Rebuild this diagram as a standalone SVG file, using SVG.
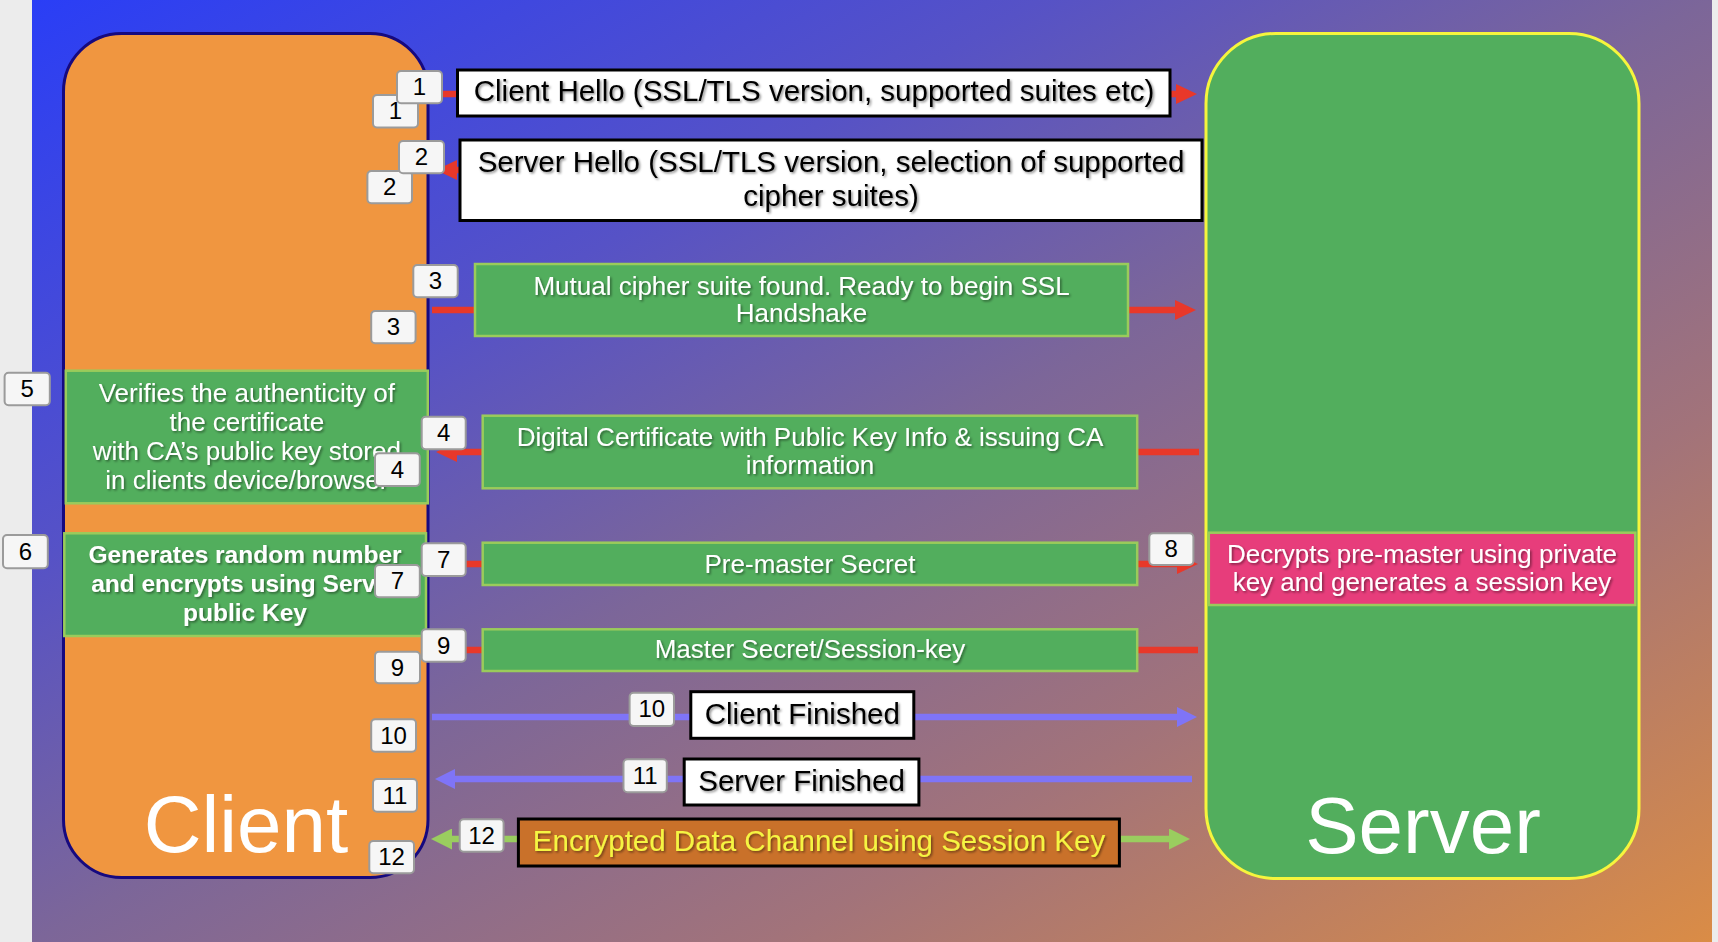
<svg xmlns="http://www.w3.org/2000/svg" width="1718" height="942" viewBox="0 0 1718 942">
  <defs>
    <linearGradient id="bg" x1="0" y1="0" x2="1" y2="1">
      <stop offset="0" stop-color="#2a3ef6"/>
      <stop offset="0.3" stop-color="#5652c6"/>
      <stop offset="0.5" stop-color="#7c6699"/>
      <stop offset="0.72" stop-color="#a2737a"/>
      <stop offset="1" stop-color="#da8c46"/>
    </linearGradient>
    <filter id="sh" x="-5%" y="-30%" width="110%" height="160%">
      <feDropShadow dx="1.5" dy="1.5" stdDeviation="0.9" flood-color="#000" flood-opacity="0.45"/>
    </filter>
    <marker id="hRed" viewBox="0 -10 21 20" refX="0" refY="0" markerWidth="21" markerHeight="20" markerUnits="userSpaceOnUse" orient="auto">
      <path d="M0,-10 L21,0 L0,10 Z" fill="#e8382a"/>
    </marker>
    <marker id="hBlue" viewBox="0 -10 20 20" refX="0" refY="0" markerWidth="20" markerHeight="20" markerUnits="userSpaceOnUse" orient="auto">
      <path d="M0,-10 L20,0 L0,10 Z" fill="#7f74f7"/>
    </marker>
    <marker id="hGreen" viewBox="0 -10.5 21 21" refX="0" refY="0" markerWidth="21" markerHeight="21" markerUnits="userSpaceOnUse" orient="auto-start-reverse">
      <path d="M0,-10.5 L21,0 L0,10.5 Z" fill="#9acd5f"/>
    </marker>
    <style>
      .t { font-family: "Liberation Sans", Arial, sans-serif; text-anchor: middle; }
      .blk { fill: #000; font-size: 29.5px; }
      .wht { fill: #fff; font-size: 26px; }
      .bold { font-weight: bold; font-size: 24.5px; }
      .big { fill: #fff; font-size: 80px; }
      .wbox { fill: #fff; stroke: #000; stroke-width: 3; }
      .gbox { fill: #52ae5d; stroke: #9acb5b; stroke-width: 2.5; }
      .lbl rect { fill: #f6f6f6; stroke: #9b9b9b; stroke-width: 2; }
      .lbl text { font-family: "Liberation Sans", Arial, sans-serif; font-size: 24px; fill: #000; text-anchor: middle; }
      .red { stroke: #e8382a; stroke-width: 6.5; fill: none; }
      .blue { stroke: #7f74f7; stroke-width: 6.5; fill: none; }
      .grn { stroke: #9acd5f; stroke-width: 6.5; fill: none; }
    </style>
  </defs>

  <rect x="0" y="0" width="1718" height="942" fill="#ececec"/>
  <rect x="32" y="0" width="1680" height="942" fill="url(#bg)"/>

  <g id="client">
    <rect x="63.5" y="33.5" width="364.5" height="844" rx="58" fill="#f09640" stroke="#16097f" stroke-width="3"/>
    <text class="t big" x="246" y="852">Client</text>
  </g>
  <g id="server">
    <rect x="1206" y="33.5" width="433" height="845" rx="70" fill="#52ae5d" stroke="#f6f53d" stroke-width="3"/>
    <text class="t big" x="1423" y="853">Server</text>
  </g>

  <g id="connectors">
    <path class="red" d="M432,94 H1176" marker-end="url(#hRed)"/>
    <path class="red" d="M460,170 H457" marker-end="url(#hRed)"/>
    <path class="red" d="M432,310 H1175" marker-end="url(#hRed)"/>
    <path class="red" d="M1199,452 H457" marker-end="url(#hRed)"/>
    <path class="red" d="M432,564 H1177" marker-end="url(#hRed)"/>
    <path class="red" d="M432,650 H1198"/>
    <path class="blue" d="M432,717 H1177" marker-end="url(#hBlue)"/>
    <path class="blue" d="M1192,779 H455" marker-end="url(#hBlue)"/>
    <path class="grn" d="M452,839 H1169" marker-start="url(#hGreen)" marker-end="url(#hGreen)"/>
  </g>

  <g id="msg1">
    <rect class="wbox" x="457.5" y="70" width="712.5" height="46"/>
    <text class="t blk" x="814" y="101" filter="url(#sh)">Client Hello (SSL/TLS version, supported suites etc)</text>
  </g>
  <g id="msg2">
    <rect class="wbox" x="460" y="140" width="742" height="80.5"/>
    <text class="t blk" x="831" y="172" filter="url(#sh)">Server Hello (SSL/TLS version, selection of supported</text>
    <text class="t blk" x="831" y="206" filter="url(#sh)">cipher suites)</text>
  </g>
  <g id="msg3">
    <rect class="gbox" x="475" y="264" width="653" height="72"/>
    <text class="t wht" x="801.5" y="294.5" filter="url(#sh)">Mutual cipher suite found. Ready to begin SSL</text>
    <text class="t wht" x="801.5" y="321.5" filter="url(#sh)">Handshake</text>
  </g>
  <g id="msg4">
    <rect class="gbox" x="482.7" y="415.7" width="654.5" height="72.6"/>
    <text class="t wht" x="810" y="445.5" filter="url(#sh)">Digital Certificate with Public Key Info &amp; issuing CA</text>
    <text class="t wht" x="810" y="474" filter="url(#sh)">information</text>
  </g>
  <g id="msg7">
    <rect class="gbox" x="482.7" y="542.7" width="654.5" height="42.3"/>
    <text class="t wht" x="810" y="572.5" filter="url(#sh)">Pre-master Secret</text>
  </g>
  <g id="msg9">
    <rect class="gbox" x="482.7" y="629.3" width="654.5" height="41.7"/>
    <text class="t wht" x="810" y="658.3" filter="url(#sh)">Master Secret/Session-key</text>
  </g>
  <g id="msg10">
    <rect class="wbox" x="690.8" y="691.7" width="223" height="46.6"/>
    <text class="t blk" x="802.3" y="724" filter="url(#sh)">Client Finished</text>
  </g>
  <g id="msg11">
    <rect class="wbox" x="684.2" y="759" width="234.7" height="46"/>
    <text class="t blk" x="801.5" y="790.5" filter="url(#sh)">Server Finished</text>
  </g>
  <g id="msg12">
    <rect x="518.4" y="819" width="601" height="47" fill="#c9712a" stroke="#000" stroke-width="3"/>
    <text class="t blk" x="819" y="850.5" style="fill:#f5f542" filter="url(#sh)">Encrypted Data Channel using Session Key</text>
  </g>
  <g id="step5">
    <rect class="gbox" x="65.8" y="370.7" width="362" height="132.6"/>
    <text class="t wht" x="246.8" y="401.5" filter="url(#sh)">Verifies the authenticity of</text>
    <text class="t wht" x="246.8" y="430.5" filter="url(#sh)">the certificate</text>
    <text class="t wht" x="246.8" y="459.5" filter="url(#sh)">with CA’s public key stored</text>
    <text class="t wht" x="246.8" y="488.5" filter="url(#sh)">in clients device/browser</text>
  </g>
  <g id="step6">
    <rect class="gbox" x="64.3" y="533.3" width="361.7" height="102.7"/>
    <text class="t wht bold" x="245" y="563.3" filter="url(#sh)">Generates random number</text>
    <text class="t wht bold" x="245" y="591.7" filter="url(#sh)">and encrypts using Server</text>
    <text class="t wht bold" x="245" y="620.7" filter="url(#sh)">public Key</text>
  </g>
  <g id="step8">
    <rect x="1208.8" y="532.7" width="426.5" height="72.3" fill="#e73d7b" stroke="#9acb5b" stroke-width="2.5"/>
    <text class="t wht" x="1422" y="562.7" filter="url(#sh)">Decrypts pre-master using private</text>
    <text class="t wht" x="1422" y="591" filter="url(#sh)">key and generates a session key</text>
  </g>

  <g id="labels">
    <g class="lbl"><rect x="373" y="95" width="45" height="32.5" rx="4"/><text x="395.5" y="119">1</text></g>
    <g class="lbl"><rect x="397" y="71" width="45" height="32.3" rx="4"/><text x="419.5" y="95">1</text></g>
    <g class="lbl"><rect x="367.4" y="171" width="44.6" height="32.3" rx="4"/><text x="389.7" y="195">2</text></g>
    <g class="lbl"><rect x="399" y="141" width="45" height="32.3" rx="4"/><text x="421.5" y="165">2</text></g>
    <g class="lbl"><rect x="413.3" y="265" width="44.4" height="32.3" rx="4"/><text x="435.5" y="289">3</text></g>
    <g class="lbl"><rect x="371.2" y="311" width="44.4" height="32.3" rx="4"/><text x="393.4" y="335">3</text></g>
    <g class="lbl"><rect x="4.6" y="372.7" width="45.2" height="32.6" rx="4"/><text x="27.2" y="397">5</text></g>
    <g class="lbl"><rect x="3" y="535" width="44.8" height="33.3" rx="4"/><text x="25.4" y="559.5">6</text></g>
    <g class="lbl"><rect x="421.7" y="416.7" width="44" height="32.6" rx="4"/><text x="443.7" y="441">4</text></g>
    <g class="lbl"><rect x="375" y="453.3" width="44.8" height="32.7" rx="4"/><text x="397.4" y="477.5">4</text></g>
    <g class="lbl"><rect x="421.7" y="543.3" width="44" height="32.7" rx="4"/><text x="443.7" y="567.5">7</text></g>
    <g class="lbl"><rect x="375" y="565" width="44.8" height="32.3" rx="4"/><text x="397.4" y="589">7</text></g>
    <g class="lbl"><rect x="1149.3" y="533.3" width="44.1" height="31.7" rx="4"/><text x="1171.3" y="557">8</text></g>
    <g class="lbl"><rect x="421.7" y="629.3" width="44" height="32.4" rx="4"/><text x="443.7" y="653.5">9</text></g>
    <g class="lbl"><rect x="375" y="651.7" width="45" height="31.6" rx="4"/><text x="397.5" y="675.5">9</text></g>
    <g class="lbl"><rect x="629.6" y="692.7" width="44.4" height="33.3" rx="4"/><text x="651.8" y="717">10</text></g>
    <g class="lbl"><rect x="371.2" y="719.3" width="44.8" height="32.4" rx="4"/><text x="393.6" y="743.5">10</text></g>
    <g class="lbl"><rect x="623.5" y="759.3" width="43.3" height="33" rx="4"/><text x="645.2" y="783.5">11</text></g>
    <g class="lbl"><rect x="373" y="779" width="44" height="32.7" rx="4"/><text x="395" y="803.5">11</text></g>
    <g class="lbl"><rect x="459.7" y="819.3" width="43.9" height="32.4" rx="4"/><text x="481.6" y="843.5">12</text></g>
    <g class="lbl"><rect x="369.3" y="841" width="44.7" height="32.3" rx="4"/><text x="391.6" y="865">12</text></g>
  </g>
</svg>
